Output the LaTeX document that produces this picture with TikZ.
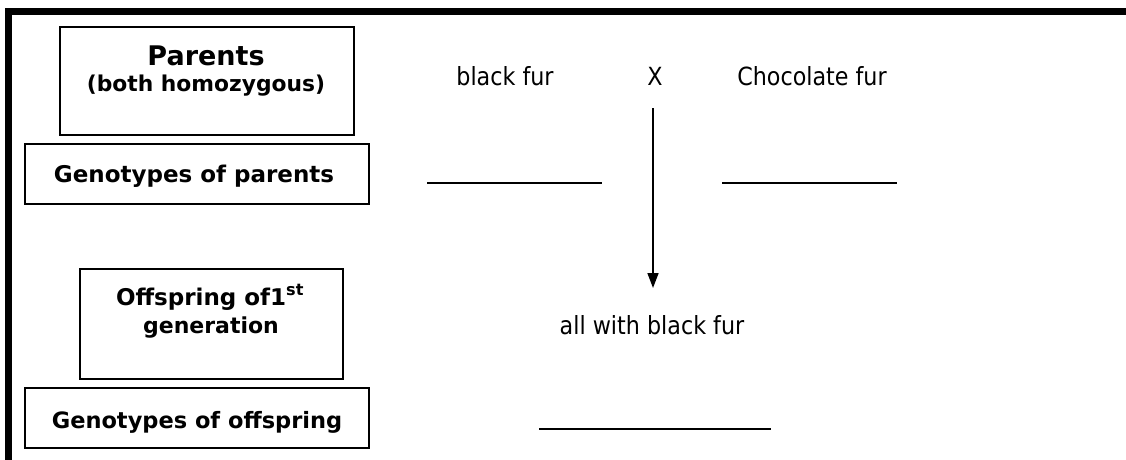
\documentclass[tikz,border=0pt]{standalone}
\usepackage{fontspec}
\setmainfont{DejaVu Sans}
\usetikzlibrary{arrows.meta}
\newcommand{\narrowtxt}[1]{\scalebox{0.89}[1]{#1}}
\tikzset{
  box/.style n args={2}{draw, line width=1.3pt, minimum width=#1, minimum height=#2, inner sep=0pt},
  txt/.style={anchor=base, inner sep=0pt},
  plain/.style={txt, font=\fontsize{25}{30}\selectfont},
  blank/.style={line width=2.2pt},
}
\begin{document}
\begin{tikzpicture}[x=1pt,y=-1pt]
\useasboundingbox (0,0) rectangle (1126,459);
\clip (0,0) rectangle (1126,459);
% outer frame (top and left visible)
\draw[line width=7pt, line join=miter] (8.5,480) -- (8.5,11.5) -- (1140,11.5);

% left column boxes
\node[box={294}{108}] (parbox) at (207,81) {};
\node[box={344}{60}]  (gpbox)  at (197,174) {};
\node[box={263}{110}] (offbox) at (211.5,324) {};
\node[box={344}{60}]  (gobox)  at (197,418) {};

\node[txt, font=\bfseries\fontsize{27}{32}\selectfont] (parT) at (206,65) {Parents};
\node[txt, font=\bfseries\fontsize{21.8}{26}\selectfont] (parS) at (206,91) {(both homozygous)};
\node[txt, font=\bfseries\fontsize{23}{27}\selectfont] (gpT) at (194,182) {Genotypes of parents};
\node[txt, font=\bfseries\fontsize{23}{27}\selectfont] (offT) at (210,305) {Offspring of1\textsuperscript{st}};
\node[txt, font=\bfseries\fontsize{22}{26}\selectfont] (offS) at (211,333) {generation};
\node[txt, font=\bfseries\fontsize{22.5}{27}\selectfont] (goT) at (197,428) {Genotypes of offspring};

% cross
\node[plain] (black) at (505,85) {\narrowtxt{black fur}};
\node[plain] (X) at (655,85) {\narrowtxt{X}};
\node[plain] (choc) at (812,85) {\narrowtxt{Chocolate fur}};
\node[plain] (all) at (652,334) {\narrowtxt{all with black fur}};

% arrow
\coordinate (aS) at (653,108);
\coordinate (aE) at (653,288);
\draw[line width=1.6pt, -{Triangle[length=15pt,width=11pt]}] (aS) -- (aE);

% blanks
\coordinate (b1a) at (427,183); \coordinate (b1b) at (602,183);
\coordinate (b2a) at (722,183); \coordinate (b2b) at (897,183);
\coordinate (b3a) at (539,429); \coordinate (b3b) at (771,429);
\draw[blank] (b1a) -- (b1b);
\draw[blank] (b2a) -- (b2b);
\draw[blank] (b3a) -- (b3b);
\end{tikzpicture}
\end{document}
